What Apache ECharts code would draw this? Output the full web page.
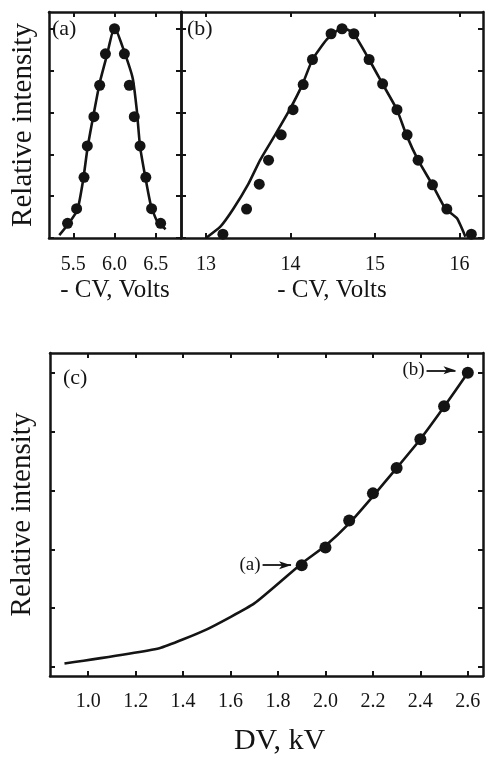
<!DOCTYPE html>
<html>
<head>
<meta charset="utf-8">
<script src="https://cdn.jsdelivr.net/npm/echarts@6/dist/echarts.min.js"></script>
<style>
    * { margin: 0; padding: 0; }
    body { background: #fff; }
    #chart-container { width: 485px; height: 759px; }
</style>
</head>
<body>
<div id="chart-container"></div>
<script>
// (a) CV scan, measured points and fit
const cvA = [5.43, 5.54, 5.63, 5.67, 5.75, 5.82, 5.89, 6.0, 6.12, 6.18, 6.24, 6.31, 6.38, 6.45, 6.56];
const intA = [0.07, 0.14, 0.29, 0.44, 0.58, 0.73, 0.88, 1.0, 0.88, 0.73, 0.58, 0.44, 0.29, 0.14, 0.07];
const cvAFit = [5.33, 5.44, 5.55, 5.62, 5.67, 5.72, 5.82, 5.905, 6.0, 6.11, 6.22, 6.27, 6.31, 6.38, 6.44, 6.51, 6.62];
const intAFit = [0.014, 0.067, 0.134, 0.278, 0.423, 0.535, 0.741, 0.869, 1.01, 0.90, 0.765, 0.613, 0.437, 0.278, 0.158, 0.086, 0.042];

// (b) CV scan, measured points and fit
const cvB = [13.20, 13.48, 13.63, 13.74, 13.89, 14.03, 14.15, 14.26, 14.48, 14.61, 14.75, 14.93, 15.09, 15.26, 15.38, 15.51, 15.68, 15.85, 16.14];
const intB = [0.018, 0.138, 0.257, 0.372, 0.493, 0.613, 0.733, 0.853, 0.976, 1.0, 0.976, 0.853, 0.737, 0.613, 0.493, 0.372, 0.254, 0.138, 0.018];
const cvBFit = [13.0, 13.17, 13.32, 13.50, 13.64, 13.82, 13.99, 14.14, 14.26, 14.43, 14.61, 14.74, 14.93, 15.09, 15.26, 15.37, 15.51, 15.68, 15.83, 15.97, 16.07];
const intBFit = [0.0, 0.054, 0.137, 0.257, 0.372, 0.494, 0.613, 0.733, 0.853, 0.949, 1.005, 0.981, 0.853, 0.736, 0.613, 0.494, 0.372, 0.254, 0.142, 0.094, 0.006];

// (c) intensity vs DV
const dvPts = [1.9, 2.0, 2.1, 2.2, 2.3, 2.4, 2.5, 2.6];
const intPts = [1.73, 2.03, 2.49, 2.95, 3.38, 3.87, 4.43, 5.0];
const dvFit = [0.9, 1.3, 1.5, 1.7, 1.9, 2.0, 2.1, 2.2, 2.3, 2.4, 2.5, 2.6];
const intFit = [0.06, 0.32, 0.64, 1.08, 1.76, 2.06, 2.44, 2.90, 3.38, 3.87, 4.42, 5.0];

// tick labels
const ticksA = [5.5, 6.0, 6.5];
const ticksB = [13, 14, 15, 16];
const ticksC = [1.0, 1.2, 1.4, 1.6, 1.8, 2.0, 2.2, 2.4, 2.6];
const ticksRel = [0, 0.2, 0.4, 0.6, 0.8, 1.0];
const ticksRelC = [0, 1, 2, 3, 4, 5];

const ink = '#141414';
const serif = 'Liberation Serif';

const pairs = (xs, ys) => xs.map((x, i) => [x, ys[i]]);

// one axis of the boxed frame; only bottom x and left y carry labels / names
function axis(grid, pos, min, max, ticks, opts) {
    opts = opts || {};
    return {
        gridIndex: grid,
        type: 'value',
        position: pos,
        min: min,
        max: max,
        axisLine: { show: true, onZero: false, lineStyle: { color: ink, width: 2.5 } },
        axisTick: { show: true, inside: true, length: 5, customValues: ticks, lineStyle: { color: ink, width: 2 } },
        axisLabel: {
            show: !!opts.label,
            customValues: ticks,
            formatter: opts.fmt,
            margin: opts.margin || 16,
            fontFamily: serif,
            fontSize: 20,
            color: ink
        },
        splitLine: { show: false },
        name: opts.name || '',
        nameLocation: 'middle',
        nameGap: opts.nameGap || 20,
        nameTextStyle: Object.assign({ fontFamily: serif, fontSize: opts.nameSize || 25, color: ink }, opts.nameStyle || {})
    };
}

const dom = document.getElementById('chart-container');
const myChart = echarts.init(dom, null, { renderer: 'canvas' });

const fmt1 = v => v.toFixed(1);
const fmt0 = v => v.toFixed(0);

const fitLine = { color: ink, width: 2.6 };
const dot = { color: ink, opacity: 1 };

const option = {
    animation: false,
    backgroundColor: '#fff',
    grid: [
        { left: 49, top: 12, width: 132, height: 226 },
        { left: 181, top: 12, width: 302, height: 226 },
        { left: 49, top: 353, width: 434, height: 323 }
    ],
    xAxis: [
        axis(0, 'bottom', 5.205, 6.807, ticksA, { label: true, fmt: fmt1, margin: 17, name: '- CV, Volts', nameGap: 40 }),
        axis(0, 'top', 5.205, 6.807, ticksA),
        axis(1, 'bottom', 12.704, 16.278, ticksB, { label: true, fmt: fmt0, margin: 17, name: '- CV, Volts', nameGap: 40 }),
        axis(1, 'top', 12.704, 16.278, ticksB),
        axis(2, 'bottom', 0.839, 2.664, ticksC, { label: true, fmt: fmt1, margin: 16, name: 'DV, kV', nameGap: 50, nameSize: 30, nameStyle: { padding: [0, 0, 0, 26] } }),
        axis(2, 'top', 0.839, 2.664, ticksC)
    ],
    yAxis: [
        axis(0, 'left', 0, 1.08, ticksRel, { name: 'Relative intensity', nameGap: 11, nameSize: 29 }),
        axis(0, 'right', 0, 1.08, ticksRel),
        axis(1, 'left', 0, 1.08, ticksRel),
        axis(1, 'right', 0, 1.08, ticksRel),
        axis(2, 'left', -0.153, 5.335, ticksRelC, { name: 'Relative intensity', nameGap: 13, nameSize: 29 }),
        axis(2, 'right', -0.153, 5.335, ticksRelC)
    ],
    series: [
        {
            type: 'line', xAxisIndex: 0, yAxisIndex: 0, data: pairs(cvAFit, intAFit),
            showSymbol: false, smooth: 0.15, lineStyle: fitLine
        },
        {
            type: 'scatter', xAxisIndex: 0, yAxisIndex: 0, data: pairs(cvA, intA),
            symbol: 'circle', symbolSize: 11, itemStyle: dot
        },
        {
            type: 'line', xAxisIndex: 2, yAxisIndex: 2, data: pairs(cvBFit, intBFit),
            showSymbol: false, smooth: 0.15, lineStyle: fitLine
        },
        {
            type: 'scatter', xAxisIndex: 2, yAxisIndex: 2, data: pairs(cvB, intB),
            symbol: 'circle', symbolSize: 11, itemStyle: dot
        },
        {
            type: 'line', xAxisIndex: 4, yAxisIndex: 4, data: pairs(dvFit, intFit),
            showSymbol: false, smooth: 0.15, lineStyle: fitLine
        },
        {
            type: 'scatter', xAxisIndex: 4, yAxisIndex: 4, data: pairs(dvPts, intPts),
            symbol: 'circle', symbolSize: 12, itemStyle: dot,
            markLine: {
                silent: true,
                symbol: ['none', 'arrow'],
                symbolSize: [6, 12],
                lineStyle: { color: ink, width: 1.8, type: 'solid' },
                label: {
                    show: true, position: 'start', distance: 2,
                    formatter: p => p.name,
                    fontFamily: serif, fontSize: 19, color: ink
                },
                // arrows pointing at the first and last DV points, i.e. the scans (a) and (b)
                data: [
                    [{ name: '(a)', coord: [dvPts[0] - 0.165, intPts[0]] }, { coord: [dvPts[0] - 0.045, intPts[0]] }],
                    [{ name: '(b)', coord: [dvPts[7] - 0.174, intPts[7] + 0.04] }, { coord: [dvPts[7] - 0.052, intPts[7] + 0.04] }]
                ]
            }
        }
    ],
    graphic: [
        { type: 'text', left: 52, top: 18, style: { text: '(a)', font: '22px "Liberation Serif"', fill: ink } },
        { type: 'text', left: 187, top: 18, style: { text: '(b)', font: '22px "Liberation Serif"', fill: ink } },
        { type: 'text', left: 63, top: 367, style: { text: '(c)', font: '22px "Liberation Serif"', fill: ink } }
    ]
};

myChart.setOption(option);
window.addEventListener('resize', () => {
    myChart.resize();
});
</script>
</body>
</html>
